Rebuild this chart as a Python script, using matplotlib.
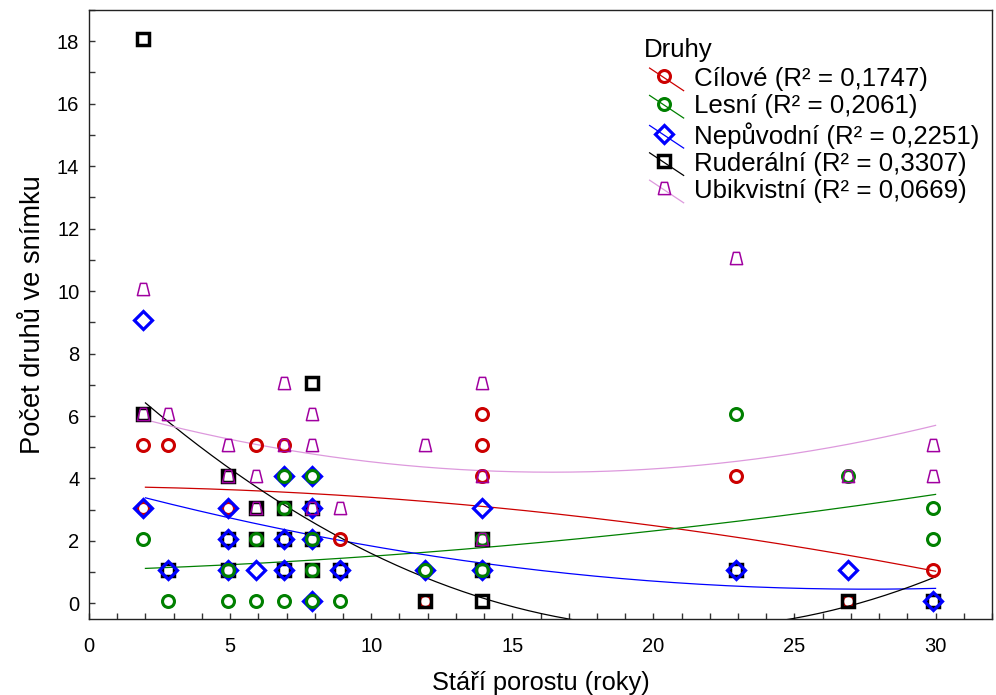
import numpy as np
import matplotlib
matplotlib.use("Agg")
import matplotlib.pyplot as plt
import matplotlib.transforms as mtransforms
from matplotlib.lines import Line2D
from matplotlib.path import Path
from matplotlib.legend_handler import HandlerBase
from matplotlib.ticker import MultipleLocator

plt.rcParams['font.family'] = ['Liberation Sans', 'DejaVu Sans']

# ---- data ----
cil_x = [2, 2, 2.9, 5, 6, 7, 9, 12, 14, 14, 14, 23, 27, 30]
cil_y = [5, 3, 5, 3, 5, 5, 2, 0, 6, 5, 4, 4, 0, 1]

les_x = [2, 2.9, 5, 5, 6, 6, 7, 7, 7, 8, 8, 8, 8, 9, 12, 14, 14, 23, 27, 30, 30]
les_y = [2, 0, 1, 0, 2, 0, 4, 3, 0, 4, 2, 1, 0, 0, 1, 2, 1, 6, 4, 3, 2]

nep_x = [2, 2, 2.9, 5, 5, 5, 6, 7, 7, 7, 8, 8, 8, 8, 9, 12, 14, 14, 23, 27, 30]
nep_y = [9, 3, 1, 3, 2, 1, 1, 4, 2, 1, 4, 3, 2, 0, 1, 1, 3, 1, 1, 1, 0]

rud_x = [2, 2, 2.9, 5, 5, 5, 6, 6, 7, 7, 7, 8, 8, 8, 8, 9, 12, 14, 14, 14, 23, 27, 30]
rud_y = [18, 6, 1, 4, 2, 1, 3, 2, 3, 2, 1, 7, 3, 2, 1, 1, 0, 2, 1, 0, 1, 0, 0]

ubi_x = [2, 2, 2.9, 5, 5, 6, 6, 7, 7, 8, 8, 8, 9, 12, 14, 14, 14, 23, 27, 30, 30]
ubi_y = [10, 6, 6, 5, 4, 4, 3, 7, 5, 6, 5, 3, 3, 5, 7, 4, 2, 11, 4, 5, 4]

# quadratic fits y = a + b*x + c*x^2 (coefficients a, b, c)
cil_fit = [3.7456, -0.00727, -0.002775]
les_fit = [1.0587, 0.02703, 0.0018]
nep_fit = [3.855, -0.2464, 0.004464]
rud_fit = [8.028, -0.8447, 0.02018]
ubi_fit = [6.3789, -0.26567, 0.0081014]
fit_range = [2, 30]

labels = ["Cílové", "Lesní", "Nepůvodní", "Ruderální", "Ubikvistní"]
r2 = ["0,1747", "0,2061", "0,2251", "0,3307", "0,0669"]

# ---- styles ----
trap = Path([(-0.5, -0.5), (0.5, -0.5), (0.25, 0.5), (-0.25, 0.5), (-0.5, -0.5)],
            [Path.MOVETO, Path.LINETO, Path.LINETO, Path.LINETO, Path.CLOSEPOLY])

styles = {
    "Cílové":     dict(marker='o', ms=8.6, mew=2.2, mec='#cc0000', line='#cc0000'),
    "Lesní":      dict(marker='o', ms=8.6, mew=2.2, mec='#008000', line='#008000'),
    "Nepůvodní":  dict(marker='D', ms=9.2, mew=2.3, mec='#0000ff', line='#0000ff'),
    "Ruderální":  dict(marker='s', ms=8.0, mew=2.5, mec='#000000', line='#000000'),
    "Ubikvistní": dict(marker=trap, ms=8.8, mew=1.1, mec='#a000a0', line='#dd99dd'),
}
series = {
    "Cílové": (cil_x, cil_y, cil_fit),
    "Lesní": (les_x, les_y, les_fit),
    "Nepůvodní": (nep_x, nep_y, nep_fit),
    "Ruderální": (rud_x, rud_y, rud_fit),
    "Ubikvistní": (ubi_x, ubi_y, ubi_fit),
}
draw_order = ["Cílové", "Ruderální", "Nepůvodní", "Lesní", "Ubikvistní"]

fig = plt.figure(figsize=(9.96, 6.95), dpi=100)
ax = fig.add_axes([89/996, 1 - 619/695, (992-89)/996, (619-10)/695])

# fitted curves
xx = np.linspace(fit_range[0], fit_range[1], 300)
for name in labels:
    a, b, c = series[name][2]
    ax.plot(xx, a + b*xx + c*xx**2, color=styles[name]['line'], lw=0.9, zorder=2)

# points (slightly offset like the original renderer)
mtrans = mtransforms.offset_copy(ax.transData, fig=fig, x=-2.5, y=2, units='dots')
for i, name in enumerate(draw_order):
    x, y, _ = series[name]
    st = styles[name]
    ax.plot(x, y, linestyle='none', marker=st['marker'], ms=st['ms'], mew=st['mew'],
            mec=st['mec'], mfc='none', transform=mtrans, zorder=3 + i, clip_on=False)

ax.set_xlim(0, 32)
ax.set_ylim(-0.5, 19)
ax.xaxis.set_major_locator(MultipleLocator(5))
ax.xaxis.set_minor_locator(MultipleLocator(1))
ax.yaxis.set_major_locator(MultipleLocator(2))
ax.yaxis.set_minor_locator(MultipleLocator(1))
ax.tick_params(which='both', direction='in', length=4, width=1, color='#333333',
               labelsize=14.5, top=False, right=False)
ax.tick_params(axis='x', pad=13)
ax.tick_params(axis='y', pad=7)
for sp in ax.spines.values():
    sp.set_linewidth(1.0)
    sp.set_color('#222222')

ax.set_xlabel("Stáří porostu (roky)", fontsize=18.3, labelpad=11)
ax.set_ylabel("Počet druhů ve snímku", fontsize=19.6, labelpad=8)


class DiagHandler(HandlerBase):
    def create_artists(self, legend, orig_handle, xdescent, ydescent, width, height,
                       fontsize, trans):
        x0, y0 = -xdescent, -ydescent
        lx0 = x0 + 0.15 * width
        lx1 = x0 + width
        ln = Line2D([lx0, lx1], [y0 + height * 1.0, y0 - height * 0.25],
                    color=orig_handle._lcol, lw=0.9)
        mk = Line2D([lx0 + 0.43 * (lx1 - lx0)], [y0 + height * 0.55], linestyle='none',
                    marker=orig_handle.get_marker(), ms=orig_handle.get_markersize(),
                    mew=orig_handle.get_markeredgewidth(),
                    mec=orig_handle.get_markeredgecolor(), mfc='none')
        ln.set_transform(trans)
        mk.set_transform(trans)
        return [ln, mk]


handles = []
for name in labels:
    st = styles[name]
    h = Line2D([], [], linestyle='none', marker=st['marker'], ms=st['ms'], mew=st['mew'],
               mec=st['mec'], mfc='none')
    h._lcol = st['line']
    handles.append(h)
leg_labels = [f"{n} (R\u00b2 = {v})" for n, v in zip(labels, r2)]
leg = ax.legend(handles, leg_labels, handler_map={Line2D: DiagHandler()},
                title="Druhy", loc='upper left',
                bbox_to_anchor=((641-89)/903, 1 - (35-10)/609),
                frameon=False, fontsize=18.6, title_fontsize=18.6, alignment='left',
                handlelength=1.55, handletextpad=0.39, labelspacing=0.13, borderpad=0.1,
                borderaxespad=0.0)
leg._legend_box.sep = 4

fig.savefig("out.png", dpi=100)
